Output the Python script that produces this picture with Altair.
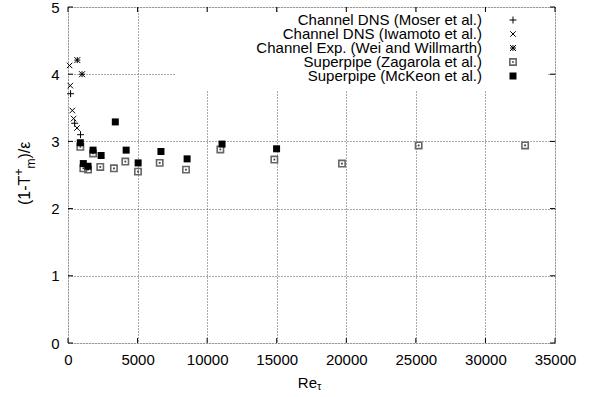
import altair as alt
import pandas as pd

# ---------------- data ----------------
moser_x = [185, 480, 900]
moser_y = [3.71, 3.27, 3.10]

iwamoto_x = [115, 165, 310, 405, 650]
iwamoto_y = [4.13, 3.83, 3.46, 3.34, 3.20]

wei_x = [670, 1010]
wei_y = [4.21, 4.00]

zagarola_x = [885, 1100, 1440, 1800, 2320, 3300, 4120, 5030, 6590, 8480,
              10950, 14830, 19690, 25200, 32850]
zagarola_y = [2.92, 2.60, 2.58, 2.82, 2.62, 2.60, 2.70, 2.55, 2.68, 2.58,
              2.88, 2.73, 2.67, 2.94, 2.94]

mckeon_x = [885, 1100, 1440, 1800, 2380, 3400, 4180, 5040, 6680, 8560,
            11070, 14990]
mckeon_y = [2.98, 2.67, 2.63, 2.87, 2.79, 3.29, 2.87, 2.68, 2.85, 2.74,
            2.96, 2.89]

x_ticks = [0, 5000, 10000, 15000, 20000, 25000, 30000, 35000]
y_ticks = [0, 1, 2, 3, 4, 5]

legend_labels = [
    "Channel DNS (Moser et al.)",
    "Channel DNS (Iwamoto et al.)",
    "Channel Exp. (Wei and Willmarth)",
    "Superpipe (Zagarola et al.)",
    "Superpipe (McKeon et al.)",
]

# ---------------- style ----------------
W, H = 487, 336
FONT = "Liberation Sans"
FS = 15
PLUS = "M-1,0L1,0M0,-1L0,1"
TIMES = "M-1,-1L1,1M1,-1L-1,1"
STAR = "M-1,0L1,0M0,-1L0,1M-1,-1L1,1M1,-1L-1,1"

xs = alt.Scale(domain=[0, 35000], nice=False, zero=False)
ys = alt.Scale(domain=[0, 5], nice=False, zero=False)

X_AX = alt.Axis(
    values=x_ticks, title=None, grid=True, gridDash=[1, 2], gridColor="#555",
    gridWidth=1, ticks=False, domain=False, labelFont=FONT, labelFontSize=FS,
    labelColor="black", labelPadding=9, labelFlush=False, labelOverlap=False,
    format="d")
Y_AX = alt.Axis(
    values=y_ticks, title=None, grid=True, gridDash=[1, 2], gridColor="#555",
    gridWidth=1, ticks=False, domain=False, labelFont=FONT, labelFontSize=FS,
    labelColor="black", labelPadding=9, labelFlush=False, labelOverlap=False,
    format="d")


def X(f):
    return alt.X(f, scale=xs, axis=X_AX, title=None)


def Y(f):
    return alt.Y(f, scale=ys, axis=Y_AX, title=None)


one = pd.DataFrame({"x": [0], "y": [0]})

axes = alt.Chart(one).mark_point(opacity=0).encode(x=X("x:Q"), y=Y("y:Q"))

# key box clears the grid behind it
keybox = alt.Chart(one).mark_rect(color="white").encode(
    x=alt.value(107), x2=alt.value(479), y=alt.value(5), y2=alt.value(83)
)

xt = pd.DataFrame({"x": x_ticks})
yt = pd.DataFrame({"y": y_ticks})
tick_layers = [
    alt.Chart(xt).mark_rule(color="black").encode(
        x=X("x:Q"), y=alt.value(H), y2=alt.value(H - 5)),
    alt.Chart(xt).mark_rule(color="black").encode(
        x=X("x:Q"), y=alt.value(0), y2=alt.value(5)),
    alt.Chart(yt).mark_rule(color="black").encode(
        y=Y("y:Q"), x=alt.value(0), x2=alt.value(5)),
    alt.Chart(yt).mark_rule(color="black").encode(
        y=Y("y:Q"), x=alt.value(W), x2=alt.value(W - 5)),
]


def series(xv, yv, **mark):
    df = pd.DataFrame({"x": xv, "y": yv})
    return alt.Chart(df).mark_point(**mark).encode(x=X("x:Q"), y=Y("y:Q"))


pts = [
    series(zagarola_x, zagarola_y, shape="square", size=40, filled=False,
           stroke="#666", strokeWidth=1.6, opacity=1),
    series(zagarola_x, zagarola_y, shape="square", size=3, filled=True,
           color="#333", opacity=1),
    series(mckeon_x, mckeon_y, shape="square", size=49, filled=True,
           color="black", opacity=1),
    series(moser_x, moser_y, shape=PLUS, size=49, filled=False,
           stroke="black", strokeWidth=1, opacity=1),
    series(iwamoto_x, iwamoto_y, shape=TIMES, size=30, filled=False,
           stroke="black", strokeWidth=1, opacity=1),
    series(wei_x, wei_y, shape=STAR, size=36, filled=False,
           stroke="black", strokeWidth=1, opacity=1),
]

# ---------------- key ----------------
key_styles = [
    dict(shape=PLUS, size=49, filled=False, stroke="black", strokeWidth=1),
    dict(shape=TIMES, size=30, filled=False, stroke="black", strokeWidth=1),
    dict(shape=STAR, size=36, filled=False, stroke="black", strokeWidth=1),
    dict(shape="square", size=40, filled=False, stroke="#666", strokeWidth=1.6),
    dict(shape="square", size=49, filled=True, color="black"),
]
key_layers = []
for i, lab in enumerate(legend_labels):
    yy = 13 + 14 * i
    key_layers.append(
        alt.Chart(pd.DataFrame({"label": [lab]})).mark_text(
            align="right", baseline="middle", font=FONT, fontSize=FS, color="black"
        ).encode(text="label:N", x=alt.value(414), y=alt.value(yy))
    )
    key_layers.append(
        alt.Chart(one).mark_point(opacity=1, **key_styles[i]).encode(
            x=alt.value(445), y=alt.value(yy))
    )
    if i == 3:
        key_layers.append(
            alt.Chart(one).mark_point(shape="square", size=3, filled=True,
                                      color="#333", opacity=1).encode(
                x=alt.value(445), y=alt.value(yy))
        )


# ---------------- titles ----------------
def txt(s, x, y, size=FS, angle=0, align="left"):
    return alt.Chart(pd.DataFrame({"s": [s]})).mark_text(
        align=align, baseline="middle", font=FONT, fontSize=size, color="black",
        angle=angle
    ).encode(text="s:N", x=alt.value(x), y=alt.value(y))


titles = [
    txt("(1-T", -43, 198, size=16, angle=270),
    txt("+", -49, 168.5, size=12, angle=270),
    txt("m", -37, 161.5, size=12, angle=270),
    txt(")/ε", -43, 151.5, size=16, angle=270),
    txt("Re", 249, 376, align="right"),
    txt("τ", 249, 380, size=11),
]

chart = alt.layer(axes, keybox, *tick_layers, *pts, *key_layers, *titles).properties(
    width=W, height=H,
    autosize=alt.AutoSizeParams(type="none"),
    padding={"left": 68, "top": 7, "right": 41, "bottom": 54},
).configure_view(stroke="#222", strokeWidth=1.5).configure(background="white")

chart.save("out.html", embed_options={"renderer": "svg", "actions": False})
